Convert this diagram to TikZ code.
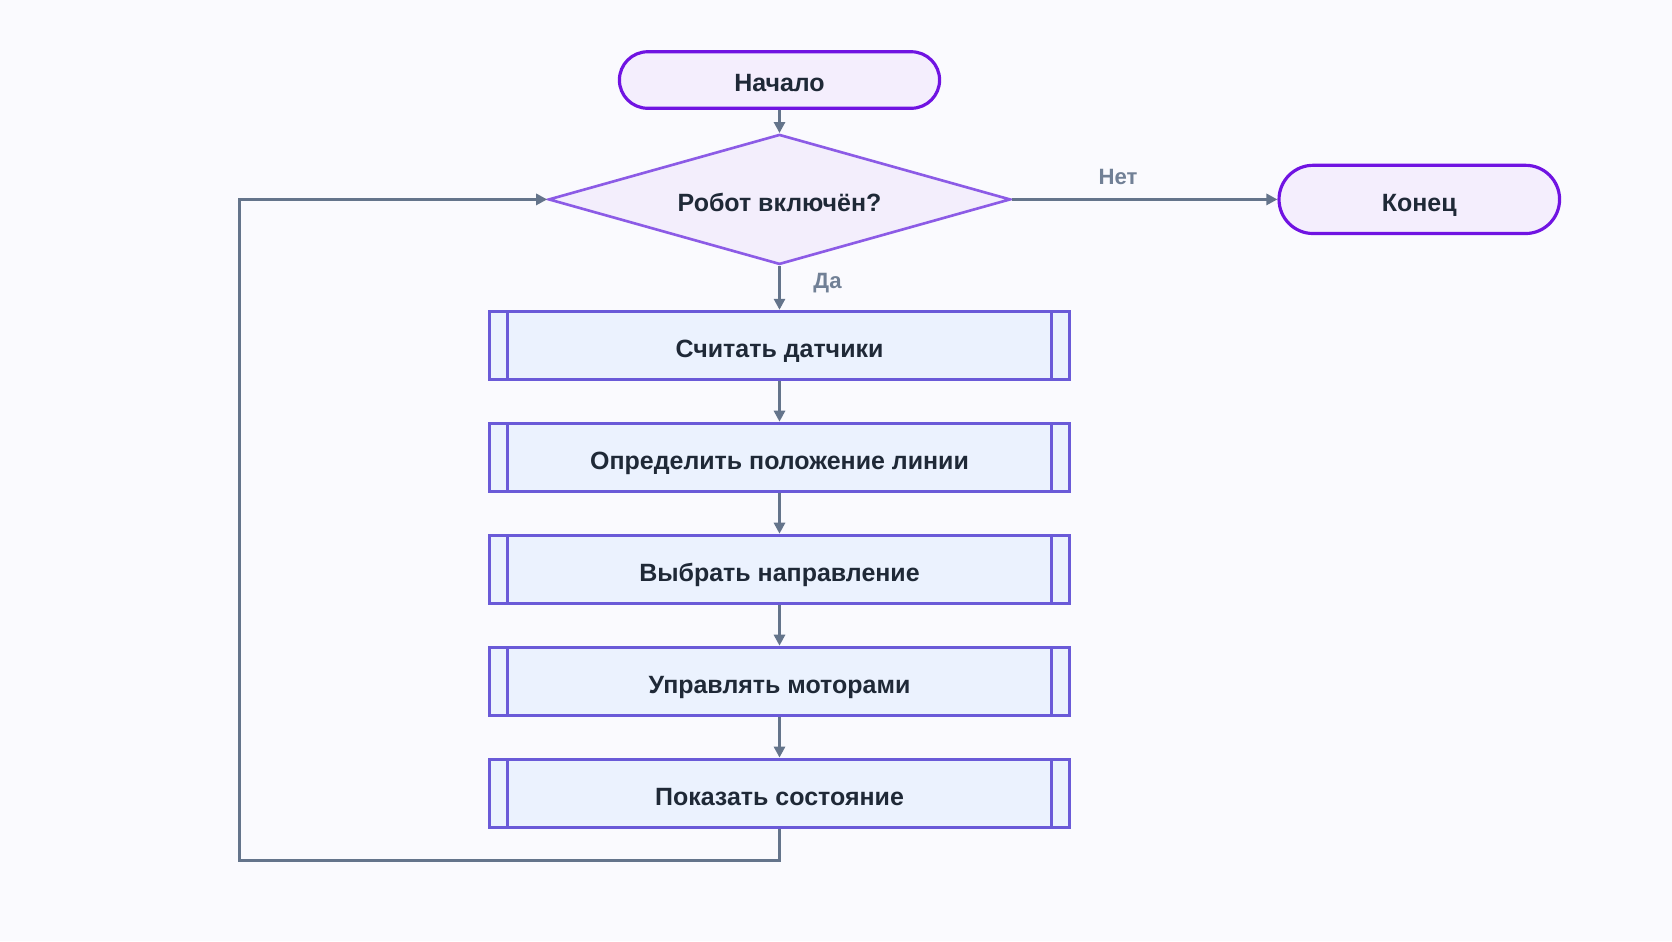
\documentclass[tikz,border=0pt]{standalone}
\usepackage{fontspec}
\setmainfont{Liberation Sans}
\usepackage{tikz}
\usetikzlibrary{arrows.meta,positioning,shapes.geometric}
\definecolor{bgcol}{HTML}{FAFAFE}
\definecolor{termline}{HTML}{7013E2}
\definecolor{termfill}{HTML}{F4EEFD}
\definecolor{decline}{HTML}{8C5BE6}
\definecolor{decfill}{HTML}{F3EEFC}
\definecolor{subline}{HTML}{6A5AD8}
\definecolor{subfill}{HTML}{EBF2FE}
\definecolor{arrcol}{HTML}{64748B}
\definecolor{txtcol}{HTML}{1F2937}
\definecolor{lblcol}{HTML}{718096}
\tikzset{
  term/.style={draw=termline, fill=termfill, line width=0.9pt, text=txtcol,
    text height=0.68em, text depth=0pt, font=\fontsize{7.1}{9}\selectfont\bfseries},
  decision/.style={diamond, aspect=3.55, inner sep=0pt, draw=decline, fill=decfill,
    line width=0.75pt, minimum width=4.617cm, minimum height=1.3cm, text=txtcol,
    text height=0.68em, text depth=0pt, font=\fontsize{7.1}{9}\selectfont\bfseries},
  subbox/.style={draw=subline, fill=subfill, line width=0.9pt, minimum width=5.8cm,
    minimum height=0.682cm, text=txtcol, text height=0.68em, text depth=0pt,
    font=\fontsize{7.1}{9}\selectfont\bfseries,
    path picture={
      \draw[subline, line width=0.9pt] ([xshift=0.18cm]path picture bounding box.north west)
        -- ([xshift=0.18cm]path picture bounding box.south west);
      \draw[subline, line width=0.9pt] ([xshift=-0.18cm]path picture bounding box.north east)
        -- ([xshift=-0.18cm]path picture bounding box.south east);}},
  flow/.style={draw=arrcol, line width=0.8pt,
    -{Triangle[length=0.11cm,width=0.11cm]}},
  lbl/.style={text=lblcol, font=\fontsize{6.3}{8}\selectfont\bfseries}
}

\begin{document}
\begin{tikzpicture}[x=0.01cm,y=-0.01cm]
  \fill[bgcol] (0,0) rectangle (1672,941);
  \node[term, minimum width=3.2cm, minimum height=0.565cm, rounded corners=0.2825cm] (start) at (779.5,80) {Начало};
  \node[decision] (check) at (779.5,199.4) {Робот включён?};
  \node[term, minimum width=2.804cm, minimum height=0.682cm, rounded corners=0.341cm] (stop) at (1419.3,199.4) {Конец};
  \node[subbox] (read) at (779.5,345.5) {Считать датчики};
  \node[subbox] (line) at (779.5,457.4) {Определить положение линии};
  \node[subbox] (dir) at (779.5,569.4) {Выбрать направление};
  \node[subbox] (motor) at (779.5,681.4) {Управлять моторами};
  \node[subbox] (show) at (779.5,793.3) {Показать состояние};
  \coordinate (loopbot) at (239.9,860.5);

  \draw[flow] (start) -- (check);
  \draw[flow] (check.east) -- node[lbl, pos=0.4, yshift=0.22cm] {Нет} (stop.west);
  \draw[flow] (check.south) -- node[lbl, pos=0.4, xshift=0.48cm] {Да} (read.north);
  \draw[flow] (read) -- (line);
  \draw[flow] (line) -- (dir);
  \draw[flow] (dir) -- (motor);
  \draw[flow] (motor) -- (show);
  \draw[flow] (show.south) |- (loopbot) |- (check.west);
\end{tikzpicture}
\end{document}
